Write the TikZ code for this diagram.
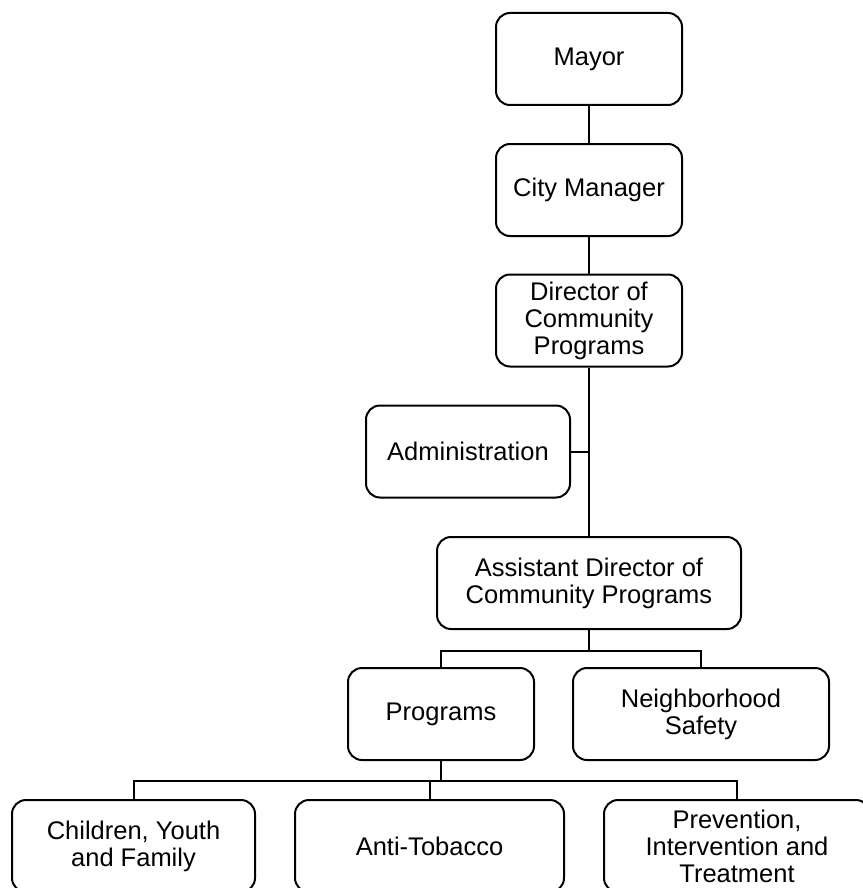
\documentclass[tikz,border=0pt]{standalone}
\usepackage{fontspec}
\setmainfont{Liberation Sans}
\begin{document}
\begin{tikzpicture}[x=1pt,y=-1pt,
  unit/.style={draw,line width=2pt,rounded corners=14pt,align=center,
    minimum height=92pt,inner sep=2pt,font=\fontsize{25.5}{27}\selectfont},
  link/.style={line width=2pt}]
 \useasboundingbox (0,0) rectangle (862,888);
 % chain of command
 \node [unit,minimum width=186pt] (mayor) at (589,59) {Mayor};
 \node [unit,minimum width=186pt] (city) at (589,190) {City Manager};
 \node [unit,minimum width=186pt] (dir) at (589,320.5) {Director of\\Community\\Programs};
 \node [unit,minimum width=204pt] (admin) at (468,451.5) {Administration};
 \node [unit,minimum width=304pt] (asst) at (589,583) {Assistant Director of\\Community Programs};
 \node [unit,minimum width=186pt] (prog) at (441,714) {Programs};
 \node [unit,minimum width=256pt] (nbhd) at (701,714) {Neighborhood\\Safety};
 % bottom row
 \node [unit,minimum width=243pt] (child) at (133.5,846) {Children, Youth\\and Family};
 \node [unit,minimum width=269pt] (anti) at (429.5,846) {Anti-Tobacco};
 \node [unit,minimum width=266pt] (prev) at (737,846) {Prevention,\\Intervention and\\Treatment};
 \draw [link] (mayor) -- (city);
 \draw [link] (city) -- (dir);
 \draw [link] (dir) -- (asst);
 \draw [link] (admin.east) -- (admin.east -| dir.south);
 \draw [link] (asst.south) -- ++(0,21) coordinate (bus1);
 \draw [link] (prog.north) |- (bus1) -| (nbhd.north);
 \draw [link] (prog.south) -- ++(0,20) coordinate (bus2);
 \draw [link] (child.north) |- (bus2) -| (prev.north);
 \draw [link] (anti.north) -- (anti.north |- bus2);
\end{tikzpicture}
\end{document}
